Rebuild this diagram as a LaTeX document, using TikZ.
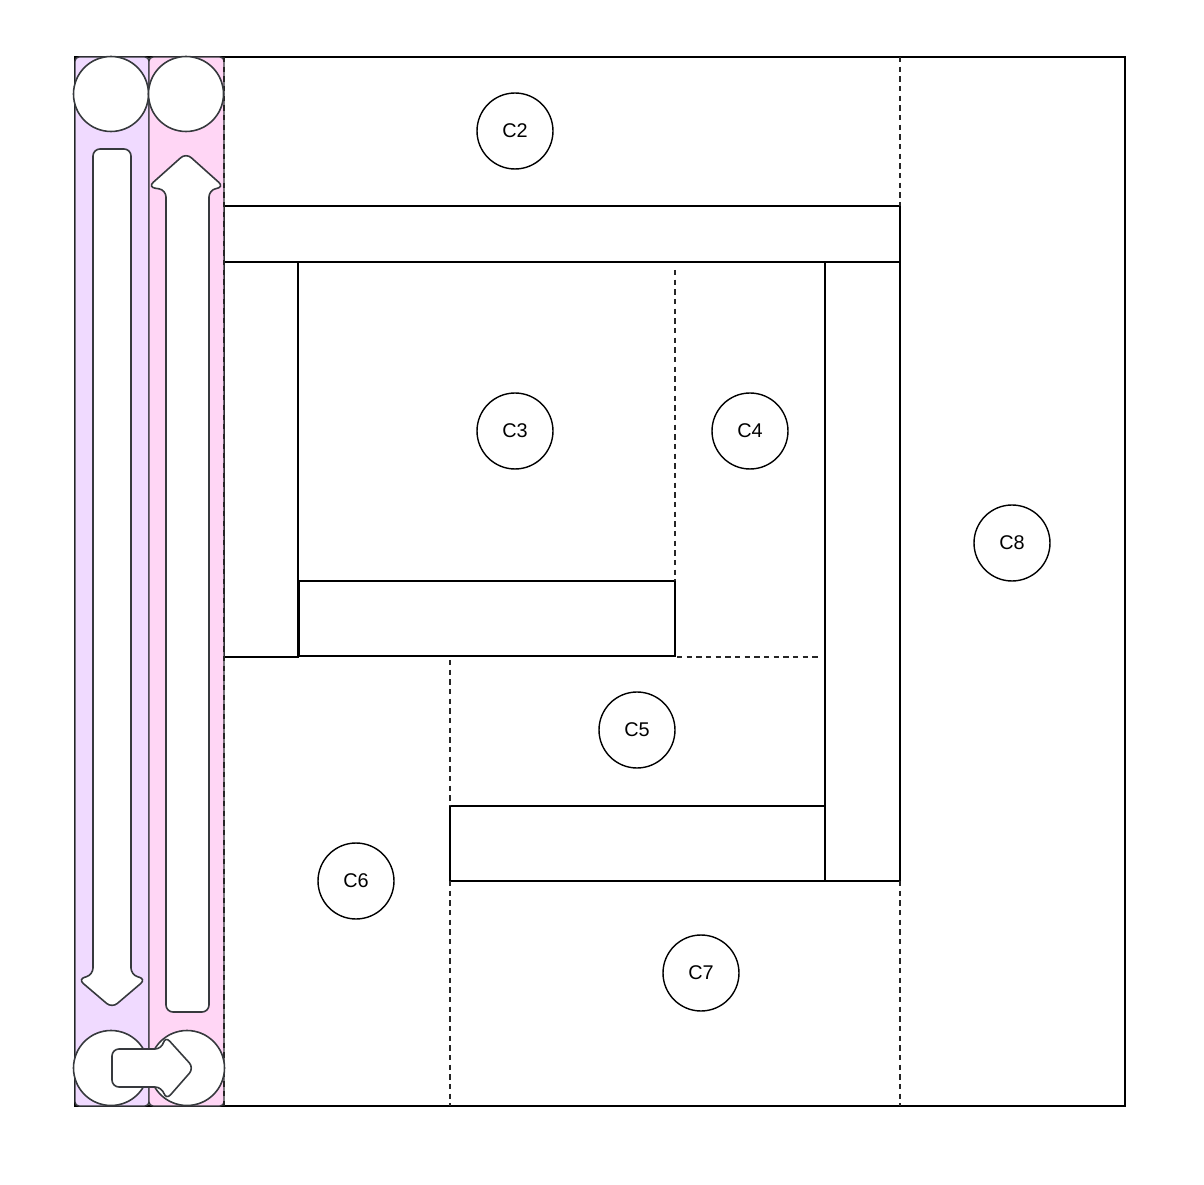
\documentclass[tikz,border=0pt]{standalone}
\usepackage{fontspec}
\setmainfont{Liberation Sans}
\definecolor{lanepurple}{HTML}{F0DAFF}
\definecolor{lanepink}{HTML}{FFD6F5}
\definecolor{lanegray}{HTML}{36393D}
\usepackage{tikz}
\usetikzlibrary{positioning}

\begin{document}
\begin{tikzpicture}[x=0.02cm, y=-0.02cm, line width=0.8pt,
  room/.style={draw=black, fill=white},
  split/.style={draw=black!85, line width=0.7pt, dash pattern=on 3pt off 2.5pt},
  lane/.style={draw=lanegray, rounded corners=0.08cm},
  lanearrow/.style={draw=lanegray, fill=white, line width=0.9pt, rounded corners=0.14cm},
  cellnode/.style={circle, draw=black, fill=white, minimum size=1.52cm, inner sep=0pt,
    font=\fontsize{11.3}{13}\selectfont}]
  \pgfmathsetmacro{\rad}{37.5}
  \useasboundingbox (0,0) rectangle (1204,1185);
  % Outer frame
  \draw (75,57) rectangle (1125,1106);
  % Bars
  \draw[room] (224,206) rectangle (900,262);
  \draw[room] (224,262) rectangle (298,657);
  \draw[room] (825,262) rectangle (900,881);
  \draw[room] (299,581) rectangle (675,656);
  \draw[room] (450,806) rectangle (825,881);
  % Dashed splits
  \draw[split] (900,57) -- (900,206);
  \draw[split] (900,881) -- (900,1106);
  \draw[split] (675,270) -- (675,581);
  \draw[split] (677,657) -- (820,657);
  \draw[split] (450,660) -- (450,806);
  \draw[split] (450,881) -- (450,1106);
  % Lanes
  \draw[lane, fill=lanepurple] (75,57) rectangle (149,1106);
  \draw[lane, fill=lanepink] (149,57) rectangle (224,1106);
  \draw[split] (224,57) -- (224,1106);
  % Lane ends
  \foreach \px/\py in {111/94, 186/94, 111/1068, 187/1068}{
    \draw[draw=lanegray, fill=white, line width=0.9pt] (\px,\py) circle[radius=\rad];
  }
  % Down arrow
  \draw[lanearrow] (93,975) -- (93,149) -- (131,149) -- (131,975)
    -- (146,979) -- (112,1008) -- (78,979) -- cycle;
  % Up arrow
  \draw[lanearrow] (166,1012) -- (166,190) -- (148,187) -- (186,153)
    -- (224,187) -- (209,190) -- (209,1012) -- cycle;
  % Right arrow
  \draw[lanearrow] (112,1049) -- (162,1049) -- (165,1036) -- (194,1068)
    -- (166,1100) -- (162,1087) -- (112,1087) -- cycle;
  % Cells
  \foreach \name/\px/\py in {C2/515/131, C3/515/431, C4/750/431, C5/637/730,
    C6/356/881, C7/701/973, C8/1012/543}{
    \node[cellnode] (\name) at (\px,\py) {\name};
  }
\end{tikzpicture}
\end{document}
